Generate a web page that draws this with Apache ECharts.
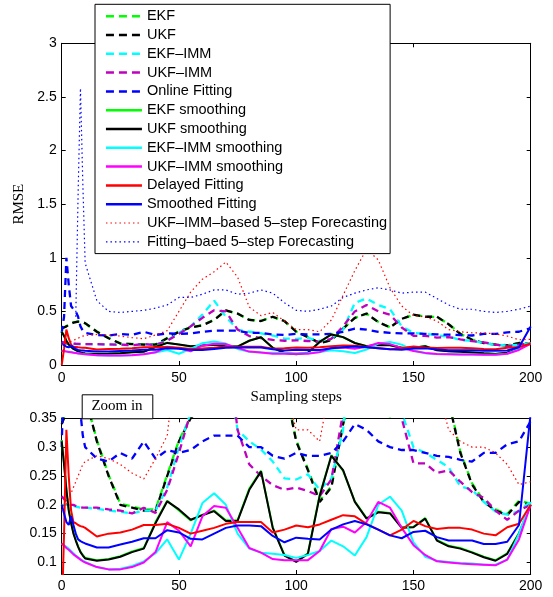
<!DOCTYPE html>
<html><head><meta charset="utf-8">
<script src="https://cdn.jsdelivr.net/npm/echarts@6/dist/echarts.min.js"></script>
<style>html,body{margin:0;padding:0;background:#fff}#c{width:553px;height:597px}</style>
</head><body><div id="c"></div>
<script>
// sampling steps (x values)
const steps = [0,1,2,3,4,5,6,7,8,9,10,15,20,25,30,35,40,45,50,55,60,65,70,75,80,85,90,95,100,105,110,115,120,125,130,135,140,145,150,155,160,165,170,175,180,185,190,195,200];
const xTicks = [0,50,100,150,200];
const yTicksTop = [0,0.5,1,1.5,2,2.5,3];
const yTicksZoom = [0.1,0.15,0.2,0.25,0.3,0.35];

const ekf = [0.345,0.352,0.362,0.376,0.387,0.397,0.402,0.406,0.404,0.398,0.388,
 0.312,0.252,0.202,0.197,0.192,0.192,0.252,0.312,0.352,0.372,0.422,0.508,0.478,0.422,0.412,0.448,0.408,0.312,0.262,0.207,0.232,0.338,0.438,0.478,0.402,0.352,0.428,0.468,0.452,0.448,0.382,0.292,0.237,0.207,0.192,0.184,0.207,0.202];
const ukf = [0.34,0.35,0.36,0.375,0.385,0.395,0.40,0.405,0.405,0.40,0.39,
 0.31,0.25,0.20,0.195,0.19,0.19,0.25,0.31,0.35,0.37,0.42,0.51,0.48,0.42,0.41,0.45,0.41,0.31,0.26,0.205,0.23,0.34,0.44,0.48,0.40,0.35,0.43,0.47,0.45,0.45,0.38,0.29,0.235,0.205,0.19,0.182,0.205,0.20];
const ekfImm = [0.20,0.20,0.20,0.20,0.20,0.198,0.197,0.196,0.195,0.195,0.195,
 0.193,0.19,0.188,0.185,0.19,0.19,0.23,0.30,0.36,0.47,0.60,0.45,0.33,0.31,0.296,0.275,0.246,0.244,0.253,0.226,0.246,0.33,0.58,0.62,0.56,0.52,0.36,0.30,0.29,0.278,0.265,0.232,0.226,0.205,0.188,0.183,0.189,0.206];
const ukfImm = [0.215,0.21,0.205,0.20,0.20,0.20,0.198,0.197,0.196,0.195,0.195,
 0.195,0.192,0.19,0.185,0.195,0.186,0.226,0.29,0.36,0.44,0.51,0.50,0.33,0.27,0.25,0.234,0.226,0.23,0.224,0.215,0.244,0.36,0.50,0.56,0.50,0.47,0.35,0.272,0.272,0.255,0.26,0.24,0.222,0.212,0.19,0.174,0.19,0.20];
const onlineFit = [0.30,0.45,1.0,0.75,0.55,0.52,0.50,0.45,0.36,0.32,0.30,
 0.28,0.275,0.29,0.28,0.31,0.28,0.295,0.29,0.295,0.31,0.32,0.32,0.32,0.30,0.30,0.285,0.28,0.29,0.285,0.285,0.29,0.31,0.34,0.33,0.31,0.30,0.295,0.295,0.29,0.285,0.283,0.278,0.275,0.29,0.29,0.305,0.31,0.345];
const ekfSm = [0.312,0.272,0.228,0.192,0.17,0.152,0.139,0.128,0.119,0.113,0.108,
 0.104,0.106,0.111,0.119,0.125,0.17,0.207,0.19,0.173,0.183,0.19,0.173,0.173,0.228,0.259,0.161,0.113,0.102,0.116,0.217,0.286,0.259,0.206,0.177,0.188,0.186,0.161,0.162,0.177,0.139,0.129,0.125,0.118,0.11,0.104,0.116,0.151,0.201];
const ukfSm = [0.31,0.27,0.226,0.19,0.168,0.15,0.138,0.127,0.118,0.112,0.107,
 0.103,0.105,0.11,0.118,0.124,0.168,0.206,0.192,0.174,0.182,0.189,0.172,0.172,0.226,0.258,0.16,0.112,0.101,0.115,0.215,0.285,0.26,0.205,0.176,0.187,0.185,0.16,0.161,0.176,0.138,0.128,0.124,0.117,0.109,0.103,0.115,0.15,0.20];
const ekfImmSm = [0.133,0.13,0.127,0.124,0.12,0.116,0.112,0.109,0.106,0.103,0.101,
 0.092,0.088,0.089,0.094,0.102,0.116,0.14,0.105,0.15,0.203,0.22,0.20,0.15,0.124,0.117,0.115,0.113,0.108,0.113,0.12,0.138,0.128,0.112,0.144,0.20,0.214,0.19,0.135,0.11,0.103,0.101,0.099,0.098,0.096,0.096,0.105,0.15,0.205];
const ukfImmSm = [0.133,0.129,0.125,0.122,0.118,0.114,0.111,0.108,0.105,0.102,0.10,
 0.092,0.088,0.088,0.092,0.10,0.118,0.17,0.155,0.128,0.18,0.198,0.195,0.16,0.125,0.117,0.106,0.104,0.104,0.104,0.12,0.158,0.162,0.152,0.17,0.205,0.195,0.16,0.13,0.113,0.102,0.10,0.098,0.097,0.096,0.095,0.105,0.14,0.20];
const delayedFit = [0.0,0.15,0.33,0.25,0.19,0.17,0.168,0.165,0.163,0.162,0.16,
 0.145,0.15,0.152,0.157,0.165,0.165,0.167,0.16,0.15,0.155,0.16,0.167,0.17,0.17,0.17,0.152,0.157,0.164,0.161,0.166,0.174,0.182,0.18,0.167,0.157,0.147,0.157,0.172,0.163,0.158,0.16,0.16,0.157,0.15,0.147,0.161,0.167,0.20];
const smoothedFit = [0.20,0.185,0.17,0.165,0.18,0.165,0.15,0.14,0.137,0.135,0.133,
 0.126,0.126,0.131,0.136,0.142,0.142,0.156,0.152,0.141,0.14,0.15,0.16,0.164,0.164,0.163,0.146,0.135,0.143,0.141,0.14,0.157,0.166,0.172,0.166,0.157,0.147,0.142,0.153,0.155,0.144,0.138,0.138,0.138,0.132,0.132,0.136,0.165,0.36];
const fcUkfImm = [0.19,0.20,0.20,0.21,0.22,0.23,0.24,0.25,0.26,0.27,0.275,
 0.285,0.28,0.27,0.255,0.245,0.28,0.32,0.50,0.68,0.80,0.87,0.96,0.82,0.54,0.46,0.49,0.41,0.33,0.33,0.31,0.42,0.65,0.88,1.08,0.98,0.72,0.55,0.46,0.45,0.41,0.33,0.31,0.30,0.30,0.29,0.27,0.235,0.24];
const fcFit = [null,null,null,null,null,null,0.45,1.6,2.58,1.7,0.95,
 0.6,0.5,0.49,0.5,0.51,0.53,0.56,0.63,0.63,0.66,0.70,0.70,0.66,0.67,0.70,0.67,0.58,0.51,0.50,0.52,0.55,0.63,0.67,0.70,0.72,0.70,0.67,0.68,0.68,0.62,0.56,0.52,0.52,0.50,0.49,0.50,0.52,0.55];

const seriesNames = ['EKF','UKF','EKF–IMM','UKF–IMM','Online Fitting','EKF smoothing','UKF smoothing','EKF–IMM smoothing','UKF–IMM smoothing','Delayed Fitting','Smoothed Fitting','UKF–IMM–based 5–step Forecasting','Fitting–baed 5–step Forecasting'];
const seriesValues = [ekf,ukf,ekfImm,ukfImm,onlineFit,ekfSm,ukfSm,ekfImmSm,ukfImmSm,delayedFit,smoothedFit,fcUkfImm,fcFit];

const DASH=[7,5], DOT=[1.5,3];
const styles = [
  {c:'#00ff00',t:DASH,w:2.3},{c:'#000000',t:DASH,w:2.3},{c:'#00ffff',t:DASH,w:2.3},{c:'#bf00bf',t:DASH,w:2.3},{c:'#0000ff',t:DASH,w:2.3},
  {c:'#00ff00',t:'solid',w:2},{c:'#000000',t:'solid',w:2},{c:'#00ffff',t:'solid',w:2},{c:'#ff00ff',t:'solid',w:2},{c:'#ff0000',t:'solid',w:2},{c:'#0000ff',t:'solid',w:2},
  {c:'#ff0000',t:DOT,w:1.2},{c:'#0000ff',t:DOT,w:1.2}
];

const FONT='"Liberation Sans", Arial, sans-serif';
const SERIF='"Liberation Serif", "Times New Roman", serif';
const G0={left:61.7,top:43.3,width:469,height:321.7};
const G1={left:61.7,top:418.3,width:469,height:155.7};

function xAx(gi,pos,labels,extra){
  return Object.assign({type:'value',gridIndex:gi,position:pos,min:0,max:200,interval:50,
    axisLine:{show:true,onZero:false,lineStyle:{color:'#000',width:1}},
    axisTick:{show:true,inside:true,length:4,lineStyle:{color:'#000'}},
    axisLabel:{show:labels,color:'#000',fontFamily:FONT,fontSize:14,margin:6},
    splitLine:{show:false}},extra||{});
}
function yAxTop(pos,labels,extra){
  return Object.assign({type:'value',gridIndex:0,position:pos,min:0,max:3,interval:0.5,
    axisLine:{show:true,onZero:false,lineStyle:{color:'#000',width:1}},
    axisTick:{show:true,inside:true,length:4,lineStyle:{color:'#000'}},
    axisLabel:{show:labels,color:'#000',fontFamily:FONT,fontSize:14,margin:5},
    splitLine:{show:false}},extra||{});
}
function yAxZoom(pos,labels){
  return {type:'value',gridIndex:1,position:pos,min:0.08,max:0.35,
    axisLine:{show:true,onZero:false,lineStyle:{color:'#000',width:1}},
    axisTick:{show:true,inside:true,length:4,lineStyle:{color:'#000'},customValues:yTicksZoom},
    axisLabel:{show:labels,color:'#000',fontFamily:FONT,fontSize:14,margin:5,customValues:yTicksZoom,
      formatter:v=>String(+(+v).toFixed(2))},
    splitLine:{show:false}};
}

const series=[];
[[0,0],[2,2]].forEach(([xi,yi])=>{
  seriesNames.forEach((n,k)=>{
    const s=styles[k];
    series.push({type:'line',name:n,xAxisIndex:xi,yAxisIndex:yi,
      data:steps.map((x,i)=>[x,seriesValues[k][i]]),
      showSymbol:false,symbol:'none',clip:true,silent:true,
      lineStyle:{color:s.c,type:s.t,width:s.w,cap:'butt'},itemStyle:{color:s.c}});
  });
});

const chart=echarts.init(document.getElementById('c'),null,{renderer:'canvas'});
chart.setOption({
  animation:false,
  backgroundColor:'#fff',
  grid:[Object.assign({},G0),Object.assign({},G1)],
  xAxis:[
    xAx(0,'bottom',true,{name:'Sampling steps',nameLocation:'middle',nameGap:22,
      nameTextStyle:{color:'#000',fontFamily:SERIF,fontSize:15}}),
    xAx(0,'top',false),
    xAx(1,'bottom',true,{axisLabel:{show:true,color:'#000',fontFamily:FONT,fontSize:14,margin:5}}),
    xAx(1,'top',false)
  ],
  yAxis:[
    yAxTop('left',true,{name:'RMSE',nameLocation:'middle',nameGap:29,nameRotate:90,
      nameTextStyle:{color:'#000',fontFamily:SERIF,fontSize:15}}),
    yAxTop('right',false),
    yAxZoom('left',true),
    yAxZoom('right',false)
  ],
  legend:{
    show:true,orient:'vertical',left:95,top:4.3,
    padding:[4.4,3,4.3,9.7],itemWidth:36,itemHeight:14,itemGap:3.8,
    backgroundColor:'#fff',borderColor:'#000',borderWidth:1,borderRadius:0,
    itemStyle:{opacity:0},
    textStyle:{color:'#000',fontFamily:FONT,fontSize:14.5,lineHeight:14},
    selectedMode:false,
    data:seriesNames.map((n,k)=>({name:n,lineStyle:{type:styles[k].t===DASH?[8,5]:styles[k].t,width:styles[k].w<1.5?1.2:2.5,color:styles[k].c}}))
  },
  graphic:[
    {type:'rect',left:81.7,top:394.3,shape:{x:0,y:0,width:70.6,height:24},style:{fill:'#fff',stroke:'#000',lineWidth:1},z:10},
    {type:'text',x:117,y:406.3,style:{text:'Zoom in',fill:'#000',fontFamily:SERIF,fontSize:15,align:'center',verticalAlign:'middle'},z:11}
  ],
  series:series
});
</script></body></html>
